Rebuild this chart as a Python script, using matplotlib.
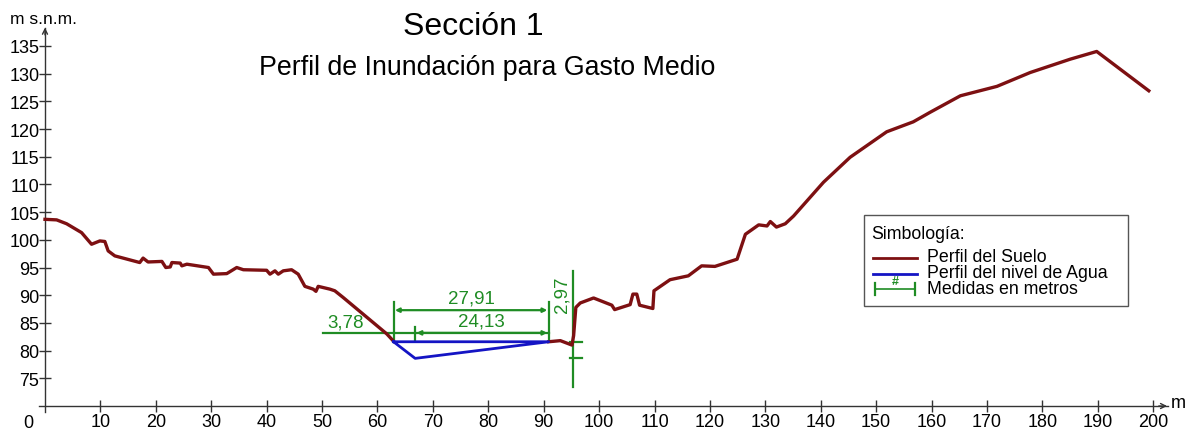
import numpy as np
import matplotlib
matplotlib.use("Agg")
import matplotlib.pyplot as plt
from matplotlib.patches import Rectangle
from matplotlib.lines import Line2D

plt.rcParams['font.family'] = ['Liberation Sans', 'DejaVu Sans']

# perfil del suelo (distancia m, cota m s.n.m.); None = tramo bajo el agua
suelo_x = [0, 2.1, 3.9, 6.6, 8.4, 9.9, 10.8, 11.4, 12.6, 17.1, 17.7, 18.6, 21.1, 21.8,
           22.6, 22.9, 24.4, 24.7, 25.6, 29.5, 30.4, 32.8, 34.6, 35.8, 40.0, 40.6, 41.5,
           42.1, 43.0, 44.5, 45.7, 46.9, 48.4, 48.9, 49.3, 51.4, 52.3, 53.8, 61.7, 62.9,
           None,
           90.9, 93.0, 95.1, 95.4, 95.8, 96.6, 99.0, 102.3, 102.8, 105.6, 106.1, 106.8,
           107.3, 109.7, 109.9, 112.8, 116.1, 118.5, 120.9, 124.9, 126.4, 128.8, 130.3,
           130.9, 132.0, 133.6, 135.1, 140.5, 145.3, 151.9, 156.7, 159.7, 165.2, 171.8,
           177.8, 185.0, 189.8, 199.2]
suelo_y = [103.7, 103.6, 102.9, 101.3, 99.2, 99.8, 99.7, 98.0, 97.1, 95.9, 96.7, 96.0,
           96.1, 95.0, 95.1, 95.9, 95.8, 95.3, 95.6, 95.0, 93.8, 93.9, 95.0, 94.6, 94.5,
           93.8, 94.4, 93.8, 94.4, 94.6, 93.8, 91.6, 91.1, 90.7, 91.6, 91.1, 90.8, 89.6,
           83.0, 81.7,
           None,
           81.6, 81.8, 81.0, 82.7, 87.8, 88.6, 89.5, 88.2, 87.4, 88.3, 90.2, 90.2,
           88.2, 87.6, 90.8, 92.8, 93.5, 95.3, 95.2, 96.5, 101.0, 102.7, 102.5,
           103.3, 102.3, 102.9, 104.3, 110.4, 114.9, 119.5, 121.3, 123.0, 126.0, 127.7,
           130.2, 132.6, 134.0, 126.9]

# perfil del nivel de agua
agua_x = [62.9, 66.8, 90.9, 62.9]
agua_y = [81.6, 78.6, 81.6, 81.6]

# medidas (m)
orilla_izq = 62.9
orilla_der = 90.9
punto_fondo = 66.8
cota_agua = 81.6
cota_fondo = 78.6
med_labels = ["3,78", "27,91", "24,13", "2,97"]

xticks = list(range(10, 201, 10))
yticks = list(range(75, 136, 5))

W, H = 1197, 431
def fx(px):
    return px / W
def fy(py):
    return 1 - py / H

rojo = '#7d1012'
azul = '#1414c4'
verde = '#1f8c24'
eje = '#333333'

fig = plt.figure(figsize=(W / 100, H / 100), dpi=100)
ax = fig.add_axes([0, 0, 1, 1])
ax.set_xlim(-8.12, 207.9)
ax.set_ylim(65.67, 143.47)
ax.patch.set_alpha(0)

for s in ['top', 'right']:
    ax.spines[s].set_visible(False)
ax.spines['left'].set_position(('data', 0))
ax.spines['bottom'].set_position(('data', 70))
ax.spines['left'].set_bounds(69.0, 138.3)
ax.spines['bottom'].set_bounds(-1.0, 202.6)
for s in ['left', 'bottom']:
    ax.spines[s].set_color(eje)
    ax.spines[s].set_linewidth(1.0)
ax.annotate('', xy=(203.0, 70), xytext=(200.5, 70),
            arrowprops=dict(arrowstyle='->', color=eje, lw=1.0, mutation_scale=9))
ax.annotate('', xy=(0, 138.8), xytext=(0, 136.5),
            arrowprops=dict(arrowstyle='->', color=eje, lw=1.0, mutation_scale=9))

ax.set_xticks(xticks)
ax.set_yticks(yticks)
ax.tick_params(axis='both', direction='inout', length=8, width=1.0, color=eje,
               labelsize=13)
ax.tick_params(axis='x', pad=1)
ax.tick_params(axis='y', pad=0)
ax.text(-3.1, 68.6, "0", ha='center', va='top', fontsize=13)

# suelo y agua
sx = np.array([np.nan if v is None else v for v in suelo_x])
sy = np.array([np.nan if v is None else v for v in suelo_y])
ax.plot(sx, sy, color=rojo, lw=2.4, solid_joinstyle='round', zorder=3)
ax.plot(agua_x, agua_y, color=azul, lw=2.0, zorder=4)

# medidas en verde
lw_m = 1.6
y_sup = 87.3
y_inf = 83.2
ax.plot([orilla_izq, orilla_izq], [cota_agua, 88.8], color=verde, lw=lw_m, zorder=2)
ax.plot([orilla_der, orilla_der], [cota_agua + 0.3, 88.8], color=verde, lw=lw_m, zorder=2)
ax.plot([punto_fondo, punto_fondo], [82.0, 84.3], color=verde, lw=lw_m, zorder=2)
ax.plot([50.1, orilla_der], [y_inf, y_inf], color=verde, lw=lw_m, zorder=2)
arr = dict(arrowstyle='<|-|>', color=verde, lw=lw_m, mutation_scale=6, shrinkA=1, shrinkB=1)
ax.annotate('', xy=(orilla_izq, y_sup), xytext=(orilla_der, y_sup), arrowprops=arr)
ax.annotate('', xy=(punto_fondo, y_inf), xytext=(orilla_der, y_inf), arrowprops=arr)
ax.text(54.3, 85.2, med_labels[0], color=verde, fontsize=13.5, ha='center', va='center')
ax.text((orilla_izq + orilla_der) / 2, 89.5, med_labels[1], color=verde, fontsize=13.5,
        ha='center', va='center')
ax.text(78.8, 85.3, med_labels[2], color=verde, fontsize=13.5, ha='center', va='center')

xv = 95.25
ax.plot([xv, xv], [73.4, 94.4], color=verde, lw=lw_m, zorder=2)
for yy in [cota_agua, cota_fondo]:
    ax.plot([xv - 0.5, xv + 1.6], [yy, yy], color=verde, lw=lw_m, zorder=2)
ax.text(93.3, 90.2, med_labels[3], color=verde, fontsize=13.5, rotation=90,
        ha='center', va='center')

# titulos
fig.text(fx(473), fy(27), "Sección 1", ha='center', va='center', fontsize=23)
fig.text(fx(487), fy(68), "Perfil de Inundación para Gasto Medio", ha='center',
         va='center', fontsize=19.3)
fig.text(fx(10), fy(20), "m s.n.m.", ha='left', va='center', fontsize=12.5)
fig.text(fx(1171), fy(404), "m", ha='left', va='center', fontsize=13)

# simbologia
fig.add_artist(Rectangle((fx(864), fy(306.5)), (1128 - 864) / W, (306.5 - 215.5) / H,
                         transform=fig.transFigure, fill=False, ec='#555555', lw=1.0))
fig.text(fx(871), fy(239), "Simbología:", ha='left', va='baseline', fontsize=12.8)
fig.add_artist(Line2D([fx(873), fx(917)], [fy(259.3), fy(259.3)], color=rojo, lw=2.0,
                      transform=fig.transFigure))
fig.add_artist(Line2D([fx(873), fx(917)], [fy(275), fy(275)], color=azul, lw=2.0,
                      transform=fig.transFigure))
fig.add_artist(Line2D([fx(875), fx(915)], [fy(289.5), fy(289.5)], color=verde, lw=1.2,
                      transform=fig.transFigure))
for px in [875, 915]:
    fig.add_artist(Line2D([fx(px), fx(px)], [fy(283.5), fy(295.5)], color=verde, lw=1.6,
                          transform=fig.transFigure))
fig.text(fx(895), fy(282), "#", ha='center', va='center', fontsize=9, color=verde,
         fontweight='bold')
fig.text(fx(927), fy(262), "Perfil del Suelo", ha='left', va='baseline', fontsize=12.8)
fig.text(fx(927), fy(277.7), "Perfil del nivel de Agua", ha='left', va='baseline',
         fontsize=12.8)
fig.text(fx(927), fy(294), "Medidas en metros", ha='left', va='baseline', fontsize=12.8)

fig.savefig("out.png", dpi=100, facecolor='white')
